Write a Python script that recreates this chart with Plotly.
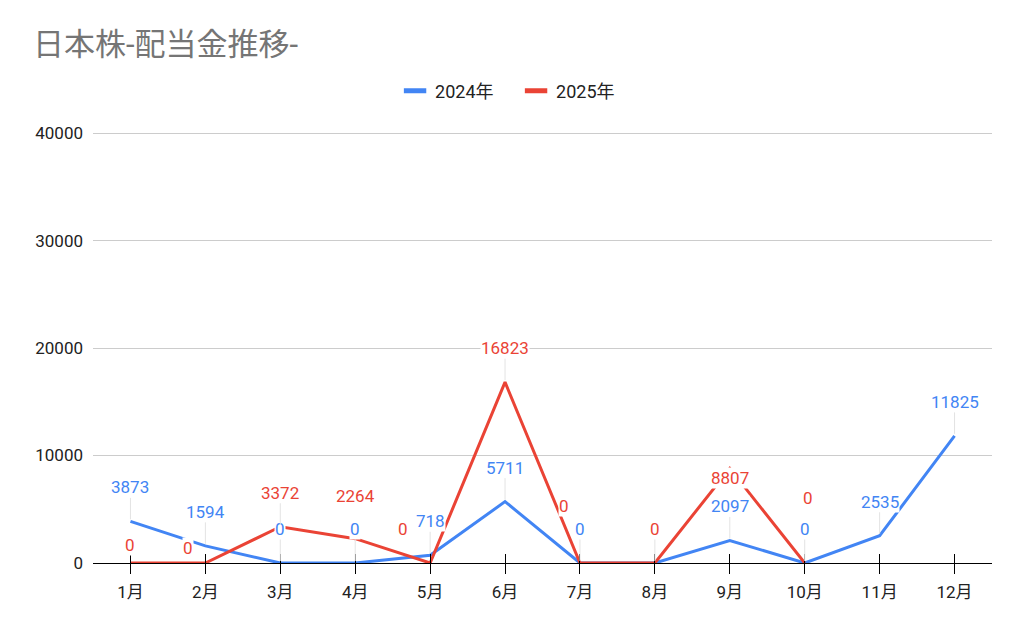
import plotly.graph_objects as go

months = ['1月', '2月', '3月', '4月', '5月', '6月', '7月', '8月', '9月', '10月', '11月', '12月']
div_2024 = [3873, 1594, 0, 0, 718, 5711, 0, 0, 2097, 0, 2535, 11825]
div_2025 = [0, 0, 3372, 2264, 0, 16823, 0, 0, 8807, 0, None, None]

BLUE = '#4285F4'
RED = '#EA4335'
FONT = 'Roboto, "Noto Sans CJK JP", sans-serif'

# page body has an 8px margin, so the figure is 16px smaller than the window
W, H = 1024 - 16, 633 - 16

# labels normally sit 34px above the point with a faint leader line.
# the ones google pushed aside to dodge each other: (dx, dy) in px, None = hidden
moved_2024 = {7: None}
moved_2025 = {0: (0, -18), 1: (-17, -15), 3: (0, -43), 4: (-27, -34),
              6: (-16, -57), 8: (0, 10), 9: (3, -65)}

fig = go.Figure()

for name, vals, color in (('2024年', div_2024, BLUE), ('2025年', div_2025, RED)):
    fig.add_trace(go.Scatter(x=months, y=vals, mode='lines', name=name,
                             line=dict(color=color, width=3), showlegend=False))
    # legend swatch only (short thick bar like sheets)
    fig.add_trace(go.Scatter(x=[None], y=[None], mode='markers', name=name,
                             marker=dict(symbol='line-ew', size=19, color=color,
                                         line=dict(width=6, color=color))))

# dummy trace for the upper half of the x tick marks
fig.add_trace(go.Scatter(x=months, y=[None] * len(months), xaxis='x2',
                         showlegend=False, hoverinfo='skip'))

for vals, color, moved in ((div_2024, BLUE, moved_2024), (div_2025, RED, moved_2025)):
    for i, (m, v) in enumerate(zip(months, vals)):
        if v is None:
            continue
        lab = dict(x=m, y=v, text=str(v), bgcolor='white', borderpad=0,
                   font=dict(family=FONT, size=17, color=color))
        if i in moved:
            if moved[i] is None:
                continue
            dx, dy = moved[i]
            fig.add_annotation(**lab, showarrow=False, xshift=dx, yshift=-dy)
        else:
            fig.add_annotation(**lab, showarrow=True, ax=0, ay=-34, arrowhead=0,
                               arrowwidth=1, arrowcolor='#e3e3e3', standoff=2)

fig.update_layout(
    width=W, height=H,
    paper_bgcolor='white', plot_bgcolor='white',
    margin=dict(l=85, r=24, t=124, b=62),
    font=dict(family=FONT, size=17, color='#222222'),
    title=dict(text='日本株-配当金推移-', x=25 / W, xanchor='left',
               y=1 - 36 / H, yanchor='middle',
               font=dict(family=FONT, size=31, color='#757575')),
    legend=dict(orientation='h', x=0.336, xanchor='left', y=1.095, yanchor='middle',
                entrywidth=76, entrywidthmode='pixels',
                font=dict(family=FONT, size=18, color='#222222'), bgcolor='rgba(0,0,0,0)'),
    xaxis=dict(type='category', range=[-0.5, 11.5], showgrid=False, showline=True,
               linecolor='black', linewidth=1, ticks='outside', ticklen=10,
               tickcolor='black', tickwidth=1, ticklabelstandoff=4,
               layer='below traces', zeroline=False),
    xaxis2=dict(type='category', overlaying='x', matches='x', anchor='y',
                side='bottom', showgrid=False, showline=False, ticks='inside',
                ticklen=9, tickcolor='black', tickwidth=1, showticklabels=False,
                zeroline=False),
    yaxis=dict(range=[0, 40100], tickvals=[0, 10000, 20000, 30000, 40000], tickformat='d',
               showgrid=True, gridcolor='#cccccc', gridwidth=1, zeroline=False,
               showline=False, ticks='', ticklabelstandoff=9),
)

fig.write_html("out.html")
